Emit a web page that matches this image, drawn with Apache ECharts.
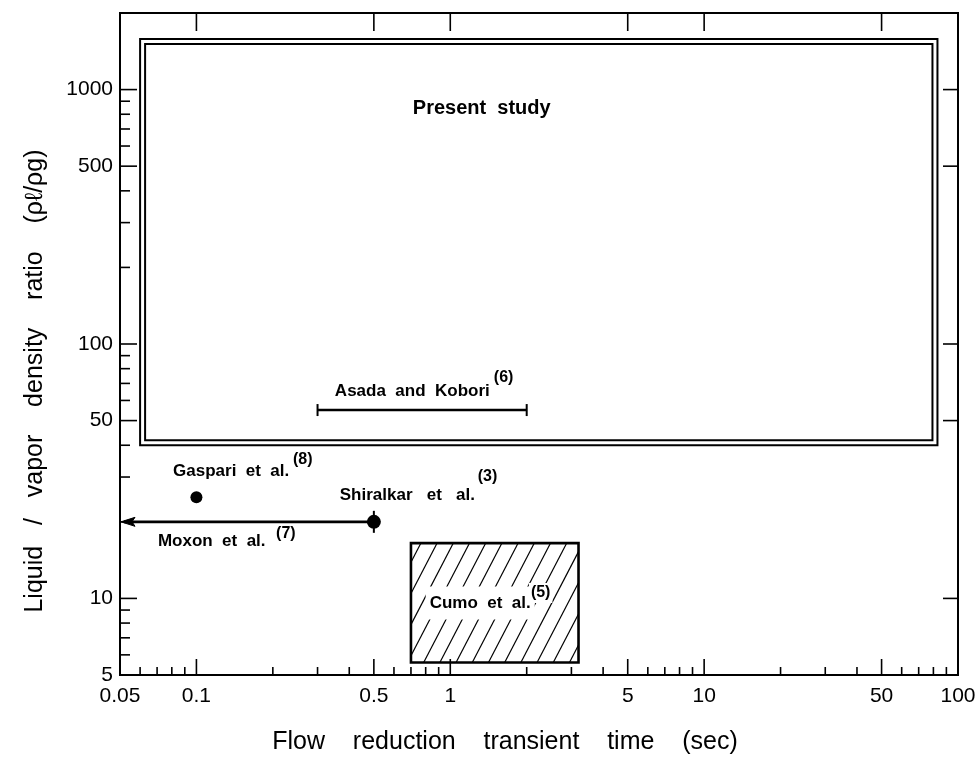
<!DOCTYPE html>
<html><head><meta charset="utf-8">
<script src="https://cdn.jsdelivr.net/npm/echarts@6/dist/echarts.min.js"></script>
<style>html,body{margin:0;padding:0;background:#fff}#c{width:979px;height:757px}</style>
</head><body><div id="c"></div>
<script>
// ---- axis ranges and ticks ----
const X_RANGE = [0.05, 100];
const Y_RANGE = [5, 2000];
const xTickLabels = [0.05, 0.1, 0.5, 1, 5, 10, 50, 100];
const xMinorTicks = [0.06, 0.07, 0.08, 0.09, 0.2, 0.3, 0.4, 0.6, 0.7, 0.8, 0.9, 2, 3, 4, 6, 7, 8, 9, 20, 30, 40, 60, 70, 80, 90];
const xTopTicks = [0.1, 0.5, 1, 5, 10, 50];
const yTickLabels = [5, 10, 50, 100, 500, 1000];
const yMinorTicks = [6, 7, 8, 9, 20, 30, 40, 60, 70, 80, 90, 200, 300, 400, 600, 700, 800, 900];
const yRightTicks = [10, 50, 100, 500, 1000];

// ---- data ----
const presentStudyX = [0.06, 83];
const presentStudyY = [40, 1580];
const cumoX = [0.7, 3.2];
const cumoY = [5.6, 16.5];
const asadaX = [0.3, 2.0];
const asadaY = [55, 55];
const gaspariPoint = [0.1, 25];
const shiralkarPoint = [0.5, 20];
const moxonX = [0.5, 0.05];
const moxonY = [20, 20];

// ---- annotation texts and anchors (data units) ----
const annotationText = ['Present  study', 'Asada  and  Kobori', '(6)', 'Gaspari  et  al.', '(8)',
  'Shiralkar   et   al.', '(3)', 'Moxon  et  al.', '(7)', 'Cumo  et  al.', '(5)'];
const annotationX = [1.33, 0.351, 1.484, 0.0809, 0.240, 0.367, 1.283, 0.0705, 0.206, 0.80, 2.04];
const annotationY = [845, 65.3, 74.1, 31.7, 35.0, 25.5, 30.0, 16.8, 17.9, 9.6, 10.5];

const FONT = '"Liberation Sans", Arial, sans-serif';

function tickSeries(values, side, len) {
  return {
    type: 'custom', coordinateSystem: 'cartesian2d', silent: true, z: 4,
    data: values.map(v => (side === 'bottom' || side === 'top') ? [v, Y_RANGE[0]] : [X_RANGE[0], v]),
    renderItem(params, api) {
      const p = api.coord([api.value(0), api.value(1)]);
      const cs = params.coordSys;
      let x1, y1, x2, y2;
      if (side === 'bottom') { x1 = x2 = p[0]; y1 = cs.y + cs.height; y2 = y1 - len; }
      else if (side === 'top') { x1 = x2 = p[0]; y1 = cs.y; y2 = y1 + len; }
      else if (side === 'left') { y1 = y2 = p[1]; x1 = cs.x; x2 = x1 + len; }
      else { y1 = y2 = p[1]; x1 = cs.x + cs.width; x2 = x1 - len; }
      return { type: 'line', shape: { x1, y1, x2, y2 }, style: { stroke: '#000', lineWidth: 1.6 } };
    }
  };
}

function tickLabelSeries(values, side) {
  return {
    type: 'custom', coordinateSystem: 'cartesian2d', silent: true, z: 4,
    data: values.map(v => side === 'bottom' ? [v, Y_RANGE[0]] : [X_RANGE[0], v]),
    renderItem(params, api) {
      const v = side === 'bottom' ? api.value(0) : api.value(1);
      const p = api.coord([api.value(0), api.value(1)]);
      const cs = params.coordSys;
      const isB = side === 'bottom';
      const x = isB ? p[0] : cs.x - 7;
      const y = isB ? cs.y + cs.height + 21 : p[1];
      const al = isB ? 'center' : 'right';
      return { type: 'text', x, y, style: { text: String(v), font: '21px ' + FONT, fill: '#000',
        align: al, textAlign: al, verticalAlign: 'middle', textVerticalAlign: 'middle' } };
    }
  };
}

const option = {
  animation: false,
  backgroundColor: '#fff',
  grid: { left: 120, right: 21, top: 13, bottom: 82, show: true, borderColor: '#000', borderWidth: 2, backgroundColor: 'transparent' },
  xAxis: { type: 'log', logBase: 10, min: X_RANGE[0], max: X_RANGE[1],
    axisLine: { show: false }, axisTick: { show: false }, axisLabel: { show: false }, splitLine: { show: false } },
  yAxis: { type: 'log', logBase: 10, min: Y_RANGE[0], max: Y_RANGE[1],
    axisLine: { show: false }, axisTick: { show: false }, axisLabel: { show: false }, splitLine: { show: false } },
  graphic: [
    { type: 'text', x: 505, y: 742, style: { text: 'Flow    reduction    transient    time    (sec)', font: '25px ' + FONT, fill: '#000',
      align: 'center', textAlign: 'center', verticalAlign: 'middle', textVerticalAlign: 'middle' } },
    { type: 'text', x: 35, y: 381, rotation: Math.PI / 2, style: { text: 'Liquid   /   vapor    density    ratio    (ρℓ/ρg)', font: '25px ' + FONT, fill: '#000',
      align: 'center', textAlign: 'center', verticalAlign: 'middle', textVerticalAlign: 'middle' } }
  ],
  series: [
    tickSeries(xTickLabels, 'bottom', 16),
    tickSeries(xMinorTicks, 'bottom', 8),
    tickSeries(xTopTicks, 'top', 18),
    tickSeries(yTickLabels, 'left', 17),
    tickSeries(yMinorTicks, 'left', 10),
    tickSeries(yRightTicks, 'right', 15),
    tickLabelSeries(xTickLabels, 'bottom'),
    tickLabelSeries(yTickLabels, 'left'),
    // Present study: double-lined box
    {
      type: 'custom', coordinateSystem: 'cartesian2d', silent: true, z: 3,
      encode: { x: [0, 1], y: [2, 3] },
      data: [[presentStudyX[0], presentStudyX[1], presentStudyY[0], presentStudyY[1]]],
      renderItem(params, api) {
        const a = api.coord([api.value(0), api.value(2)]);
        const b = api.coord([api.value(1), api.value(3)]);
        const L = a[0], B = a[1], R = b[0], T = b[1], g = 5;
        return { type: 'group', children: [
          { type: 'rect', shape: { x: L, y: T, width: R - L, height: B - T }, style: { fill: 'none', stroke: '#000', lineWidth: 2 } },
          { type: 'rect', shape: { x: L + g, y: T + g, width: R - L - 2 * g, height: B - T - 2 * g }, style: { fill: 'none', stroke: '#000', lineWidth: 2 } }
        ] };
      }
    },
    // Cumo et al.: hatched box
    {
      type: 'custom', coordinateSystem: 'cartesian2d', silent: true, z: 3,
      encode: { x: [0, 1], y: [2, 3] },
      data: [[cumoX[0], cumoX[1], cumoY[0], cumoY[1]]],
      renderItem(params, api) {
        const a = api.coord([api.value(0), api.value(2)]);
        const b = api.coord([api.value(1), api.value(3)]);
        const L = a[0], B = a[1], R = b[0], T = b[1], H = B - T;
        const k = 0.52, s = 16.2;
        const children = [];
        for (let xt = L + 10 - s * Math.ceil(10 / s); xt <= R + k * H + s; xt += s) {
          const t0 = Math.max(0, (xt - R) / k);
          const t1 = Math.min(H, (xt - L) / k);
          if (t1 > t0 + 0.5) {
            children.push({ type: 'line', shape: { x1: xt - k * t0, y1: T + t0, x2: xt - k * t1, y2: T + t1 },
              style: { stroke: '#000', lineWidth: 1.2 } });
          }
        }
        children.push({ type: 'rect', shape: { x: L, y: T, width: R - L, height: H }, style: { fill: 'none', stroke: '#000', lineWidth: 2.6 } });
        return { type: 'group', children };
      }
    },
    // Asada and Kobori: range bar
    {
      type: 'custom', coordinateSystem: 'cartesian2d', silent: true, z: 3,
      encode: { x: [0, 1], y: [2, 3] },
      data: [[asadaX[0], asadaX[1], asadaY[0], asadaY[1]]],
      renderItem(params, api) {
        const a = api.coord([api.value(0), api.value(2)]);
        const b = api.coord([api.value(1), api.value(3)]);
        return { type: 'group', children: [
          { type: 'line', shape: { x1: a[0], y1: a[1], x2: b[0], y2: b[1] }, style: { stroke: '#000', lineWidth: 2.6 } },
          { type: 'line', shape: { x1: a[0], y1: a[1] - 6, x2: a[0], y2: a[1] + 6 }, style: { stroke: '#000', lineWidth: 2 } },
          { type: 'line', shape: { x1: b[0], y1: b[1] - 6, x2: b[0], y2: b[1] + 6 }, style: { stroke: '#000', lineWidth: 2 } }
        ] };
      }
    },
    // Moxon et al.: arrow
    {
      type: 'custom', coordinateSystem: 'cartesian2d', silent: true, z: 3,
      encode: { x: [0, 1], y: [2, 3] },
      data: [[moxonX[0], moxonX[1], moxonY[0], moxonY[1]]],
      renderItem(params, api) {
        const a = api.coord([api.value(0), api.value(2)]);
        const b = api.coord([api.value(1), api.value(3)]);
        return { type: 'group', children: [
          { type: 'line', shape: { x1: a[0], y1: a[1], x2: b[0] + 4, y2: b[1] }, style: { stroke: '#000', lineWidth: 2.6 } },
          { type: 'polygon', shape: { points: [[b[0] + 1, b[1]], [b[0] + 15, b[1] - 4.5], [b[0] + 12, b[1]], [b[0] + 15, b[1] + 4.5]] }, style: { fill: '#000', stroke: '#000', lineWidth: 1 } }
        ] };
      }
    },
    // Gaspari et al.: point
    {
      type: 'custom', coordinateSystem: 'cartesian2d', silent: true, z: 3,
      data: [gaspariPoint],
      renderItem(params, api) {
        const p = api.coord([api.value(0), api.value(1)]);
        return { type: 'circle', shape: { cx: p[0], cy: p[1], r: 6 }, style: { fill: '#000' } };
      }
    },
    // Shiralkar et al.: point
    {
      type: 'custom', coordinateSystem: 'cartesian2d', silent: true, z: 3,
      data: [shiralkarPoint],
      renderItem(params, api) {
        const p = api.coord([api.value(0), api.value(1)]);
        return { type: 'group', children: [
          { type: 'line', shape: { x1: p[0], y1: p[1] - 11, x2: p[0], y2: p[1] + 11 }, style: { stroke: '#000', lineWidth: 2 } },
          { type: 'circle', shape: { cx: p[0], cy: p[1], r: 7 }, style: { fill: '#000' } }
        ] };
      }
    },
    // annotation texts
    {
      type: 'custom', coordinateSystem: 'cartesian2d', silent: true, z: 6,
      data: annotationX.map((x, i) => [x, annotationY[i]]),
      renderItem(params, api) {
        const i = params.dataIndex;
        const p = api.coord([api.value(0), api.value(1)]);
        const txt = annotationText[i];
        const isSup = txt.charAt(0) === '(';
        const isMain = i === 0;
        const al = isMain ? 'center' : 'left';
        const style = { text: txt, fill: '#000',
          font: 'bold ' + (isMain ? 20 : (isSup ? 16 : 17)) + 'px ' + FONT,
          align: al, textAlign: al, verticalAlign: 'middle', textVerticalAlign: 'middle' };
        if (i >= 9) { style.backgroundColor = '#fff'; style.padding = i === 9 ? [8, 4, 8, 4] : [2, 2, 2, 2]; }
        return { type: 'text', x: p[0], y: p[1], style };
      }
    }
  ]
};

const chart = echarts.init(document.getElementById('c'), null, { renderer: 'canvas' });
chart.setOption(option);
</script>
</body></html>
